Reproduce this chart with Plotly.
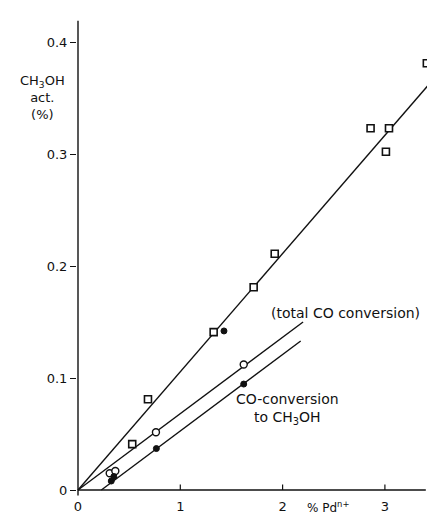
import plotly.graph_objects as go

# ---- data ----
# CH3OH activity (open squares)
sq_x = [0.53, 0.684, 1.326, 1.717, 1.923, 2.86, 3.01, 3.04, 3.41]
sq_y = [0.041, 0.081, 0.141, 0.181, 0.211, 0.323, 0.302, 0.323, 0.381]
# total CO conversion (open circles)
oc_x = [0.31, 0.365, 0.762, 1.62]
oc_y = [0.015, 0.017, 0.0515, 0.112]
# CO conversion to CH3OH (filled circles)
fc_x = [0.325, 0.35, 0.766, 1.427, 1.62]
fc_y = [0.008, 0.012, 0.037, 0.142, 0.0946]

# fitted lines (end points)
line_sq_x = [0.0, 3.6]
line_sq_y = [0.0, 0.380]
line_tot_x = [0.0, 2.20]
line_tot_y = [0.0, 0.150]
line_meoh_x = [0.228, 2.177]
line_meoh_y = [0.0, 0.133]

x_ticks = [0, 1, 2, 3]
x_ticktext = ["0", "1", "2", "3"]
y_ticks = [0, 0.1, 0.2, 0.3, 0.4]
y_ticktext = ["0", "0.1", "0.2", "0.3", "0.4"]

FONT = "DejaVu Sans"
BLACK = "#111111"

fig = go.Figure()

for lx, ly in [(line_sq_x, line_sq_y), (line_tot_x, line_tot_y), (line_meoh_x, line_meoh_y)]:
    fig.add_trace(go.Scatter(x=lx, y=ly, mode="lines",
                             line=dict(color=BLACK, width=1.4), hoverinfo="skip"))

fig.add_trace(go.Scatter(x=sq_x, y=sq_y, mode="markers",
                         marker=dict(symbol="square", size=7, color="white",
                                     line=dict(color=BLACK, width=1.6))))
fig.add_trace(go.Scatter(x=oc_x, y=oc_y, mode="markers",
                         marker=dict(symbol="circle", size=7, color="white",
                                     line=dict(color=BLACK, width=1.4))))
fig.add_trace(go.Scatter(x=fc_x, y=fc_y, mode="markers",
                         marker=dict(symbol="circle", size=6, color=BLACK,
                                     line=dict(color=BLACK, width=1))))

shapes = [
    dict(type="line", xref="x", yref="y", x0=0, y0=0, x1=3.40, y1=0,
         line=dict(color=BLACK, width=1.4)),
    dict(type="line", xref="x", yref="y", x0=0, y0=-0.005, x1=0, y1=0.419,
         line=dict(color=BLACK, width=1.4)),
]
for v in x_ticks[1:]:
    shapes.append(dict(type="line", xref="x", yref="y", x0=v, y0=0, x1=v, y1=0.005,
                       line=dict(color=BLACK, width=1.2)))

annotations = [
    dict(x=-0.093, y=0.816, xref="paper", yref="paper", showarrow=False,
         xanchor="center", yanchor="middle",
         text="CH<sub>3</sub>OH<br>act.<br>(%)", align="center",
         font=dict(family=FONT, size=13, color=BLACK)),
    dict(x=0.686, y=-0.021, xref="paper", yref="paper", showarrow=False,
         xanchor="center", yanchor="middle", borderpad=0,
         text="% Pd<sup>n+</sup>", font=dict(family=FONT, size=12, color=BLACK)),
    dict(x=2.61, y=0.158, xref="x", yref="y", showarrow=False,
         xanchor="center", yanchor="middle",
         text="(total CO conversion)", font=dict(family=FONT, size=14, color=BLACK)),
    dict(x=2.05, y=0.072, xref="x", yref="y", showarrow=False, align="center",
         xanchor="center", yanchor="middle",
         text="CO-conversion<br>to CH<sub>3</sub>OH",
         font=dict(family=FONT, size=14, color=BLACK)),
]

fig.update_layout(
    width=435, height=515,
    margin=dict(l=69, r=0, t=0, b=26),
    paper_bgcolor="white", plot_bgcolor="white",
    showlegend=False,
    shapes=shapes, annotations=annotations,
    xaxis=dict(range=[-0.0098, 3.568], tickvals=x_ticks, ticktext=x_ticktext,
               showgrid=False, zeroline=False, showline=False, ticks="",
               tickfont=dict(family=FONT, size=13, color=BLACK)),
    yaxis=dict(range=[-0.00625, 0.43036], tickvals=y_ticks, ticktext=y_ticktext,
               showgrid=False, zeroline=False, showline=False,
               ticks="outside", ticklen=6, tickwidth=1.2, tickcolor=BLACK,
               tickfont=dict(family=FONT, size=13, color=BLACK)),
)

fig.write_html("out.html")
